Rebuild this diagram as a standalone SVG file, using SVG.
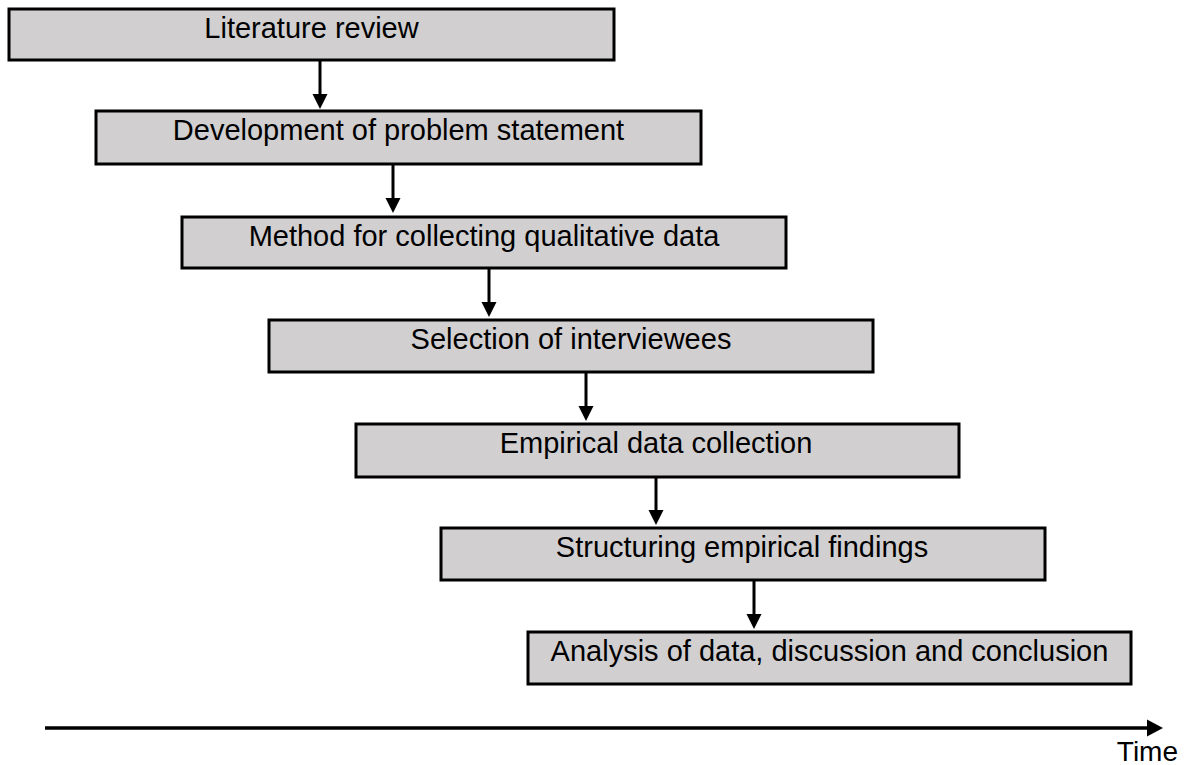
<svg xmlns="http://www.w3.org/2000/svg" width="1186" height="765" viewBox="0 0 1186 765">
<defs>
<style>
.box rect{fill:#d1cfd0;stroke:#000;stroke-width:3}
.box text{font-family:"Liberation Sans",Arial,sans-serif;font-size:29px;fill:#000;text-anchor:middle}
.conn line{stroke:#000;stroke-width:3}
.conn polygon{fill:#000}
.lbl{font-family:"Liberation Sans",Arial,sans-serif;font-size:28px;fill:#000;text-anchor:end}
</style>
</defs>
<rect width="1186" height="765" fill="#fff"/>
<g id="n1" class="box"><rect x="9" y="9" width="605" height="51"/><text x="311.5" y="38">Literature review</text></g>
<g id="n2" class="box"><rect x="96" y="111" width="605" height="53"/><text x="398.5" y="140">Development of problem statement</text></g>
<g id="n3" class="box"><rect x="182" y="217" width="604" height="51"/><text x="484" y="246">Method for collecting qualitative data</text></g>
<g id="n4" class="box"><rect x="269" y="320" width="604" height="52"/><text x="571" y="349">Selection of interviewees</text></g>
<g id="n5" class="box"><rect x="356" y="424" width="603" height="53"/><text x="656" y="453">Empirical data collection</text></g>
<g id="n6" class="box"><rect x="441" y="528" width="604" height="52"/><text x="742" y="557">Structuring empirical findings</text></g>
<g id="n7" class="box"><rect x="528" y="632" width="603" height="52"/><text x="829.5" y="661">Analysis of data, discussion and conclusion</text></g>
<g id="connectors" class="conn">
<line x1="320" y1="61" x2="320" y2="95"/><polygon points="312.5,94 327.5,94 320,109"/>
<line x1="393" y1="165" x2="393" y2="199"/><polygon points="385.5,198 400.5,198 393,213"/>
<line x1="489" y1="269" x2="489" y2="303"/><polygon points="481.5,302 496.5,302 489,317"/>
<line x1="586" y1="373" x2="586" y2="407"/><polygon points="578.5,406 593.5,406 586,421"/>
<line x1="656" y1="478" x2="656" y2="511"/><polygon points="648.5,510 663.5,510 656,525"/>
<line x1="754" y1="581" x2="754" y2="615"/><polygon points="746.5,614 761.5,614 754,629"/>
</g>
<g id="timeline" class="conn">
<line x1="45" y1="728" x2="1150" y2="728" style="stroke-width:3.5"/>
<polygon points="1147,719.5 1163,728 1147,736.5"/>
<text class="lbl" x="1178" y="761">Time</text>
</g>
</svg>
